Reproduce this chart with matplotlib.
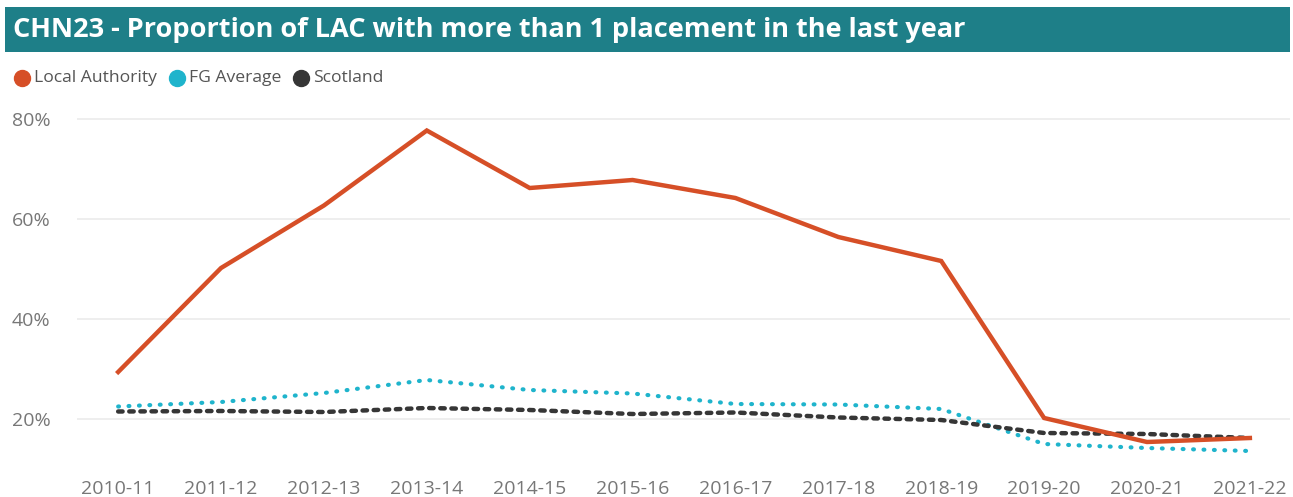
import numpy as np
import matplotlib
matplotlib.use("Agg")
from matplotlib import pyplot as plt
from matplotlib.patches import Rectangle
from matplotlib.ticker import FuncFormatter

years = ['2010-11', '2011-12', '2012-13', '2013-14', '2014-15', '2015-16',
         '2016-17', '2017-18', '2018-19', '2019-20', '2020-21', '2021-22']
local_authority = [29.4, 50.2, 62.7, 77.7, 66.2, 67.8, 64.2, 56.4, 51.6, 20.2, 15.4, 16.2]
fg_average = [22.5, 23.4, 25.2, 27.8, 25.8, 25.1, 23.0, 22.9, 22.0, 15.0, 14.2, 13.6]
scotland = [21.5, 21.6, 21.4, 22.2, 21.8, 21.0, 21.3, 20.3, 19.8, 17.2, 17.0, 16.2]

c_la = '#D64F27'
c_fg = '#1FB4CC'
c_sc = '#363636'
c_teal = '#1E7F88'
c_tick = '#777777'

plt.rcParams['font.family'] = ['Open Sans', 'DejaVu Sans']

fig = plt.figure(figsize=(12.93, 4.97), dpi=100)

# title bar
fig.patches.append(Rectangle((5 / 1293, 1 - 52 / 497), 1285 / 1293, 45 / 497,
                             transform=fig.transFigure, facecolor=c_teal,
                             edgecolor='none', zorder=0))
fig.text(13 / 1293, 1 - 30 / 497, 'CHN23 - Proportion of LAC with more than 1 placement in the last year',
         color='white', fontsize=19.5, fontweight='bold', va='center', ha='left')

# legend
leg_y = 1 - 78 / 497
x0 = 22
for name, col in [('Local Authority', c_la), ('FG Average', c_fg), ('Scotland', c_sc)]:
    fig.lines.append(plt.Line2D([x0 / 1293], [leg_y], marker='o', markersize=11.5,
                                color=col, transform=fig.transFigure))
    t = fig.text((x0 + 12) / 1293, leg_y, name, fontsize=12.6, color='#555555',
                 va='center', ha='left')
    fig.canvas.draw()
    bb = t.get_window_extent()
    x0 = bb.x1 + 20

ax = fig.add_axes([77 / 1293, 28 / 497, 1213 / 1293, 360 / 497])
x = np.arange(len(years))
ax.plot(x, local_authority, color=c_la, lw=3.2, solid_joinstyle='miter', zorder=3)
ax.plot(x, fg_average, color=c_fg, lw=3.0, linestyle=(0, (0.2, 2.3)),
        dash_capstyle='round', zorder=2)
ax.plot(x, scotland, color=c_sc, lw=3.2, linestyle=(0, (1.0, 1.5)),
        dash_capstyle='round', zorder=2)

ax.set_xlim(-0.4, 11.39)
ax.set_ylim(10, 82)
ax.set_yticks([20, 40, 60, 80])
ax.yaxis.set_major_formatter(FuncFormatter(lambda v, p: '{:.0f}%'.format(v)))
ax.set_xticks(x)
ax.set_xticklabels(years)
ax.grid(axis='y', color='#EBEBEB', lw=1.2)
ax.set_axisbelow(True)
for s in ax.spines.values():
    s.set_visible(False)
ax.tick_params(axis='both', length=0, colors=c_tick, labelsize=14)
ax.tick_params(axis='y', pad=19)
ax.tick_params(axis='x', pad=8)

fig.savefig('out.png', dpi=100)
